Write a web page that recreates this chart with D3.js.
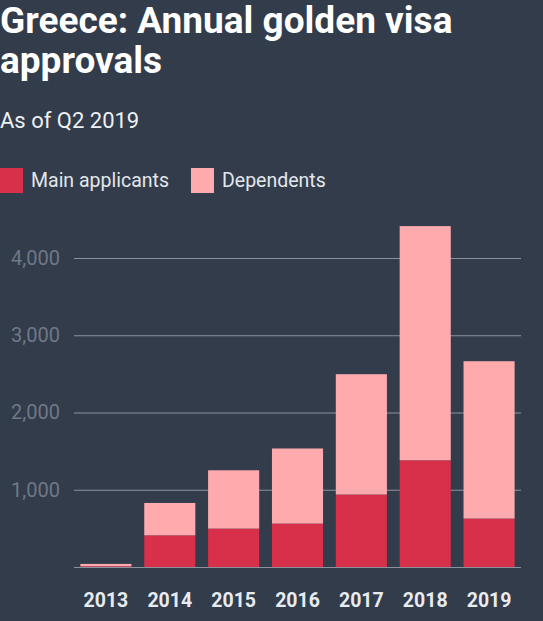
<!DOCTYPE html>
<html>
<head>
<meta charset="utf-8">
<script src="https://cdn.jsdelivr.net/npm/d3@7"></script>
<style>
  html, body { margin: 0; padding: 0; background: #323c4b; }
  svg { display: block; font-family: Roboto, "Noto Sans", sans-serif; }
</style>
</head>
<body>
<div class="content"></div>
<script>
// Chart data
var years = ["2013", "2014", "2015", "2016", "2017", "2018", "2019"];
var mainApplicants = [10, 410, 497, 562, 938, 1382, 627];
var dependents = [30, 419, 755, 972, 1558, 3031, 2037];
var yTicks = [0, 1000, 2000, 3000, 4000];
var seriesNames = ["Main applicants", "Dependents"];
var seriesColors = ["#d8304a", "#ffabae"];

var W = 543, H = 621;
var margin = {top: 258, right: 22, bottom: 54, left: 74},
    width = W - margin.left - margin.right,
    height = H - margin.top - margin.bottom;

var svg = d3.select(".content").append("svg")
    .attr("width", W)
    .attr("height", H);

svg.append("rect")
    .attr("width", W)
    .attr("height", H)
    .attr("fill", "#323c4b");

// Title and subtitle
svg.append("text")
    .attr("x", 0).attr("y", 33)
    .style("font-size", "37px").style("font-weight", "bold")
    .attr("fill", "#ffffff")
    .text("Greece: Annual golden visa");
svg.append("text")
    .attr("x", 0).attr("y", 73)
    .style("font-size", "37px").style("font-weight", "bold")
    .attr("fill", "#ffffff")
    .text("approvals");
svg.append("text")
    .attr("x", 0).attr("y", 128)
    .style("font-size", "22px")
    .attr("fill", "#eef0f3")
    .text("As of Q2 2019");

// Legend
var legendX = [0, 191];
var legend = svg.selectAll(".legend")
    .data(seriesNames)
    .enter().append("g")
      .attr("class", "legend")
      .attr("transform", function(d, i) { return "translate(" + legendX[i] + ",168)"; });
legend.append("rect")
    .attr("width", 23).attr("height", 25)
    .attr("fill", function(d, i) { return seriesColors[i]; });
legend.append("text")
    .attr("x", 31).attr("y", 19)
    .style("font-size", "19.5px")
    .attr("fill", "#e3e7ec")
    .text(function(d) { return d; });

var g = svg.append("g")
    .attr("transform", "translate(" + margin.left + "," + margin.top + ")");

// Scales
var x = d3.scaleBand()
    .domain(years)
    .range([0, width])
    .paddingInner(0.2)
    .paddingOuter(0.1);

var y = d3.scaleLinear()
    .domain([0, 4000])
    .range([height, 0]);

// Gridlines + y labels
var yAxis = g.append("g")
    .call(d3.axisLeft(y).tickValues(yTicks).tickSize(-width).tickFormat(function(d) { return d === 0 ? "" : d3.format(",")(d); }))
    .call(function(a) { a.select(".domain").remove(); });
yAxis.selectAll("line")
    .attr("stroke", "#8a929d")
    .attr("stroke-width", 1.2);
yAxis.selectAll("text")
    .attr("x", -14)
    .attr("fill", "#6f7886")
    .style("font-size", "20px")
    .style("font-family", "Roboto, sans-serif");

// Stacked bars
var rows = years.map(function(yr, i) {
  return {year: yr, main: mainApplicants[i], dep: dependents[i]};
});
var stack = d3.stack().keys(["main", "dep"]);
var layers = stack(rows);

g.selectAll(".layer")
    .data(layers)
    .enter().append("g")
      .attr("class", "layer")
      .attr("fill", function(d, i) { return seriesColors[i]; })
    .selectAll("rect")
    .data(function(d) { return d; })
    .enter().append("rect")
      .attr("x", function(d) { return x(d.data.year); })
      .attr("y", function(d) { return y(d[1]); })
      .attr("height", function(d) { return y(d[0]) - y(d[1]); })
      .attr("width", x.bandwidth());

// X labels
var xAxis = g.append("g")
    .attr("transform", "translate(0," + height + ")")
    .call(d3.axisBottom(x).tickSize(0).tickPadding(0))
    .call(function(a) { a.select(".domain").remove(); });
xAxis.selectAll("text")
    .attr("y", 40)
    .attr("dy", null)
    .attr("fill", "#e8ebef")
    .style("font-size", "19.5px")
    .style("font-weight", "bold")
    .style("font-family", "Roboto, sans-serif");
</script>
</body>
</html>
